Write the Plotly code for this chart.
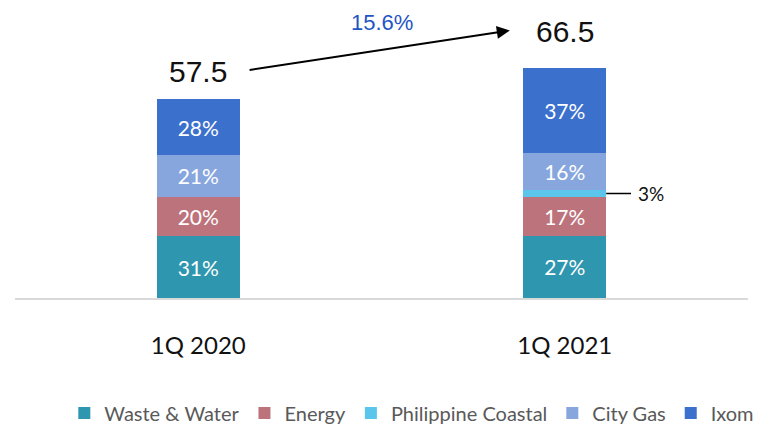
import plotly.graph_objects as go

categories = ["1Q 2020", "1Q 2021"]
totals = [57.5, 66.5]
series_names = ["Waste & Water", "Energy", "Philippine Coastal", "City Gas", "Ixom"]
shares = {
    "Waste & Water": [31, 27],
    "Energy": [20, 17],
    "Philippine Coastal": [0, 3],
    "City Gas": [21, 16],
    "Ixom": [28, 37],
}
colors = {
    "Waste & Water": "#2E96AE",
    "Energy": "#BD737C",
    "Philippine Coastal": "#5BC5EC",
    "City Gas": "#87A6DE",
    "Ixom": "#3B70CD",
}
growth_label = "15.6%"

xs = list(range(len(categories)))
fig = go.Figure()
for name in series_names:
    pct = shares[name]
    vals = [p / 100 * t for p, t in zip(pct, totals)]
    texts = [f"{p}%" if p >= 10 else "" for p in pct]
    fig.add_trace(go.Bar(
        x=xs, y=vals, name=name, marker=dict(color=colors[name], line=dict(width=0)),
        text=texts, textposition="inside", insidetextanchor="middle",
        textfont=dict(color="white", size=21, family="Lato"),
        width=0.226, hoverinfo="skip",
    ))

# total labels
total_shift = [28, 37]
for i, t in enumerate(totals):
    fig.add_annotation(x=xs[i], y=t, yref="y", text=f"{t}", showarrow=False,
                       yshift=total_shift[i], font=dict(size=30, color="#111111", family="Liberation Sans"))

# growth arrow
fig.add_annotation(x=0.85, y=77.4, ax=0.136, ay=65.9, xref="x", yref="y", axref="x", ayref="y",
                   showarrow=True, arrowhead=2, arrowsize=1.3, arrowwidth=2, arrowcolor="black", text="")
fig.add_annotation(x=0.5, y=79.8, xref="x", yref="y", text=growth_label, showarrow=False,
                   font=dict(size=22, color="#1F55C4", family="Liberation Sans"))

# small segment callout
pc = shares["Philippine Coastal"][1]
base = (shares["Waste & Water"][1] + shares["Energy"][1] + pc / 2) / 100 * totals[1]
fig.add_annotation(x=1.113, y=base, ax=1.185, ay=base, xref="x", yref="y", axref="x", ayref="y",
                   showarrow=True, arrowhead=0, arrowwidth=1.5, arrowcolor="black", text="")
fig.add_annotation(x=1.195, y=base, xref="x", yref="y", text=f"{pc}%", showarrow=False,
                   xanchor="left", font=dict(size=19, color="#111111", family="Lato"))

fig.update_layout(
    barmode="stack",
    width=777, height=425,
    margin=dict(l=15, r=29, t=10, b=127),
    plot_bgcolor="white", paper_bgcolor="white",
    showlegend=True,
    legend=dict(orientation="h", xref="container", yref="container", x=0.53, y=0.028,
                xanchor="center", yanchor="middle",
                font=dict(size=20, color="#595959", family="Lato"), itemwidth=30,
                traceorder="normal", tracegroupgap=0),
    xaxis=dict(range=[-0.5, 1.5], tickvals=xs, ticktext=categories, showgrid=False,
               showline=True, linecolor="#D9D9D9", linewidth=1.5, zeroline=False,
               ticks="", ticklabelstandoff=25,
               tickfont=dict(size=24, color="#111111", family="Lato")),
    yaxis=dict(range=[0, 83.3], visible=False, showgrid=False, zeroline=False),
)
fig.write_html("out.html", config={"displayModeBar": False},
               post_script="document.body.style.margin='0px';")
